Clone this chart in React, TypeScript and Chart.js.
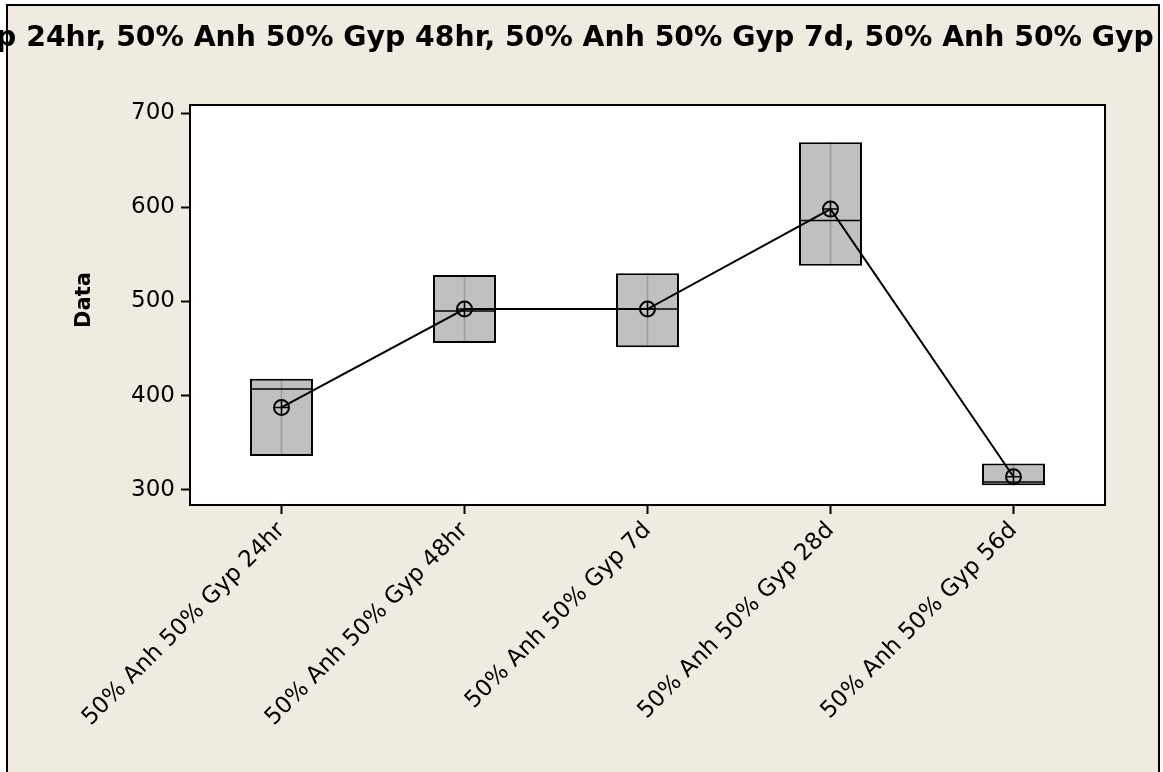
import React, { useEffect, useRef } from "react";
import { Chart, registerables } from "chart.js";

Chart.register(...registerables);

// ---- data ----
const categories = [
  "50% Anh 50% Gyp 24hr",
  "50% Anh 50% Gyp 48hr",
  "50% Anh 50% Gyp 7d",
  "50% Anh 50% Gyp 28d",
  "50% Anh 50% Gyp 56d",
];
const q1Values = [336, 456, 451.5, 538, 305];
const q3Values = [418, 528, 530, 669, 328];
const medianValues = [407, 490, 492, 586, 308.5];
const meanValues = [387.5, 492, 492, 598, 314];
const yTicks = [300, 400, 500, 600, 700];
const yMin = 284;
const yMax = 708.5;
const chartTitle =
  "Boxplot of 50% Anh 50% Gyp 24hr, 50% Anh 50% Gyp 48hr, 50% Anh 50% Gyp 7d, 50% Anh 50% Gyp 28d, 50% Anh 50% Gyp 56d";
const yAxisTitle = "Data";

const FONT = "'DejaVu Sans', 'Liberation Sans', sans-serif";

const framePlugin = {
  id: "minitabFrame",
  beforeDraw(chart: any) {
    const { ctx, width, height, chartArea } = chart;
    ctx.save();
    ctx.fillStyle = "#ffffff";
    ctx.fillRect(0, 0, width, height);
    ctx.fillStyle = "#EFEBE1";
    ctx.fillRect(7, 5, 1152, height);
    ctx.strokeStyle = "#000";
    ctx.lineWidth = 2;
    ctx.beginPath();
    ctx.moveTo(7, height);
    ctx.lineTo(7, 5);
    ctx.lineTo(1159, 5);
    ctx.lineTo(1159, height);
    ctx.stroke();
    ctx.fillStyle = "#ffffff";
    ctx.fillRect(chartArea.left, chartArea.top, chartArea.right - chartArea.left, chartArea.bottom - chartArea.top);
    ctx.restore();
  },
  afterDraw(chart: any) {
    const { ctx, chartArea } = chart;
    ctx.save();
    ctx.strokeStyle = "#000";
    ctx.lineWidth = 2;
    ctx.strokeRect(chartArea.left, chartArea.top, chartArea.right - chartArea.left, chartArea.bottom - chartArea.top);
    ctx.fillStyle = "#000";
    ctx.font = `bold 28.3px ${FONT}`;
    ctx.textAlign = "center";
    ctx.textBaseline = "middle";
    ctx.fillText(chartTitle, 578, 39);
    ctx.translate(85, 300);
    ctx.rotate(-Math.PI / 2);
    ctx.font = `bold 21px ${FONT}`;
    ctx.fillText(yAxisTitle, 0, 0);
    ctx.restore();
  },
};

export default function App() {
  const ref = useRef<HTMLCanvasElement | null>(null);
  useEffect(() => {
    if (!ref.current) return;
    const boxData = categories.map((_, i) => [q1Values[i], q3Values[i]]);
    const chart = new Chart(ref.current, {
      type: "bar",
      data: {
        labels: categories,
        datasets: [
          {
            type: "line",
            label: "Mean",
            data: meanValues,
            borderColor: "#000",
            borderWidth: 2,
            pointStyle: "circle",
            pointRadius: 7.5,
            pointBorderWidth: 2,
            pointBackgroundColor: "rgba(0,0,0,0)",
            pointBorderColor: "#000",
            fill: false,
            tension: 0,
            order: 0,
          } as any,
          {
            type: "line",
            label: "Mean cross",
            data: meanValues,
            showLine: false,
            pointStyle: "cross",
            pointRadius: 7.5,
            pointBorderWidth: 1.5,
            pointBorderColor: "#000",
            order: 0,
          } as any,
          {
            type: "line",
            label: "Median",
            data: medianValues,
            showLine: false,
            pointStyle: "line",
            pointRadius: 31,
            pointBorderWidth: 1.5,
            pointBorderColor: "#000",
            order: 2,
          } as any,
          {
            type: "bar",
            label: "Whisker",
            data: boxData,
            barThickness: 1,
            backgroundColor: "rgba(0,0,0,0.18)",
            borderWidth: 0,
            grouped: false,
            order: 3,
          } as any,
          {
            type: "bar",
            label: "Box",
            data: boxData,
            backgroundColor: "#C0C0C0",
            borderColor: "#000",
            borderWidth: 2,
            borderSkipped: false,
            barPercentage: 0.344,
            categoryPercentage: 1,
            grouped: false,
            order: 4,
          } as any,
        ],
      },
      options: {
        responsive: false,
        devicePixelRatio: 1,
        animation: false,
        events: [],
        layout: { padding: { left: 0, top: 105, right: 58, bottom: 0 } },
        plugins: {
          legend: { display: false },
          tooltip: { enabled: false },
          title: { display: false },
        },
        scales: {
          x: {
            type: "category",
            offset: true,
            grid: {
              display: true,
              drawOnChartArea: false,
              drawTicks: true,
              tickLength: 9,
              tickColor: "#000",
              tickWidth: 2,
              offset: false,
            },
            border: { display: false },
            ticks: {
              color: "#000",
              font: { family: FONT, size: 23 },
              minRotation: 45,
              maxRotation: 45,
              autoSkip: false,
              padding: 3,
            },
            afterFit: (s: any) => {
              s.height = 267;
            },
          },
          y: {
            type: "linear",
            min: yMin,
            max: yMax,
            afterBuildTicks: (s: any) => {
              s.ticks = yTicks.map((v) => ({ value: v }));
            },
            grid: {
              display: true,
              drawOnChartArea: false,
              drawTicks: true,
              tickLength: 9,
              tickColor: "#000",
              tickWidth: 2,
            },
            border: { display: false },
            ticks: {
              color: "#000",
              font: { family: FONT, size: 23 },
              padding: 6,
            },
            afterFit: (s: any) => {
              s.width = 190;
            },
          },
        },
      },
      plugins: [framePlugin],
    });
    return () => chart.destroy();
  }, []);
  return (
    <div style={{ position: "fixed", left: 0, top: 0, width: 1163, height: 772 }}>
      <canvas ref={ref} width={1163} height={772} style={{ display: "block" }} />
    </div>
  );
}
